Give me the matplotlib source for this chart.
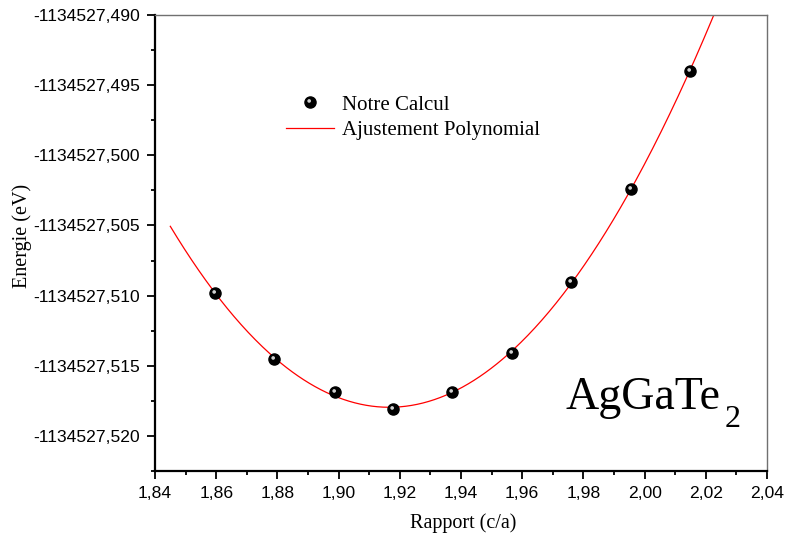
import numpy as np
import matplotlib
matplotlib.use("Agg")
import matplotlib.pyplot as plt
from matplotlib.ticker import MultipleLocator, FuncFormatter
from matplotlib.markers import MarkerStyle
from matplotlib.transforms import Affine2D
from matplotlib.lines import Line2D
from matplotlib.legend_handler import HandlerTuple

# c/a ratio and total energy (eV)
ratio = [1.8596, 1.8789, 1.8988, 1.9178, 1.9371, 1.9567, 1.9759, 1.9955, 2.0148]
energy = [-1134527.5098, -1134527.5145, -1134527.5169, -1134527.5181,
          -1134527.5169, -1134527.5141, -1134527.5090, -1134527.5024,
          -1134527.4940]

x_ticks = [1.84, 1.86, 1.88, 1.90, 1.92, 1.94, 1.96, 1.98, 2.00, 2.02, 2.04]
y_ticks = [-1134527.520, -1134527.515, -1134527.510, -1134527.505,
           -1134527.500, -1134527.495, -1134527.490]

serif = "Liberation Serif"
sans = "Liberation Sans"

fig = plt.figure(figsize=(7.88, 5.39), dpi=100)
ax = fig.add_axes([155 / 788, 68 / 539, 612 / 788, 456 / 539])

# polynomial fit of the computed points
coef = np.polyfit(ratio, energy, 3)
xf = np.linspace(1.845, 2.03, 400)
ax.plot(xf, np.polyval(coef, xf), color="red", lw=0.9, zorder=2)

# points drawn as shaded spheres: dark body plus a small highlight
ms = 8
ax.plot(ratio, energy, ls="none", marker="o", ms=ms, color="black", zorder=3)
hl = MarkerStyle("o", transform=Affine2D().scale(0.33).translate(-0.12, 0.14))
ax.plot(ratio, energy, ls="none", marker=hl, ms=ms, color="#d0d0d0",
        markeredgewidth=0, zorder=4)

ax.set_xlim(1.84, 2.04)
ax.set_ylim(-1134527.5225, -1134527.490)
ax.set_xticks(x_ticks)
ax.set_yticks(y_ticks)
ax.xaxis.set_minor_locator(MultipleLocator(0.01))
ax.yaxis.set_minor_locator(MultipleLocator(0.0025))
ax.xaxis.set_major_formatter(FuncFormatter(lambda v, p: f"{v:.2f}".replace(".", ",")))
ax.yaxis.set_major_formatter(FuncFormatter(lambda v, p: f"{v:.3f}".replace(".", ",")))

ax.tick_params(which="both", direction="out", top=False, right=False,
               width=1.3, color="black")
ax.tick_params(which="major", length=6, labelsize=12.6, pad=5)
ax.tick_params(which="minor", length=3)
for lab in ax.get_xticklabels() + ax.get_yticklabels():
    lab.set_fontfamily(sans)

for side in ("left", "bottom"):
    ax.spines[side].set_linewidth(1.6)
    ax.spines[side].set_color("black")
for side in ("top", "right"):
    ax.spines[side].set_linewidth(1.0)
    ax.spines[side].set_color("#707070")

ax.set_xlabel("Rapport (c/a)", fontfamily=serif, fontsize=14.5, va="center")
ax.xaxis.set_label_coords(0.503, -0.114)
ax.set_ylabel("Energie (eV)", fontfamily=serif, fontsize=14.5, va="center")
ax.yaxis.set_label_coords(-0.217, 0.515)

# compound name with a large, low subscript
name = ax.text(0.67, 0.137, "AgGaTe", transform=ax.transAxes, fontfamily=serif,
               fontsize=33, ha="left", va="baseline")
ax.annotate("2", xy=(1, 0), xycoords=name, xytext=(3, -5.8),
            textcoords="offset points", fontfamily=serif, fontsize=23,
            ha="left", va="baseline")

h_pts = (Line2D([], [], ls="none", marker="o", ms=ms, color="black"),
         Line2D([], [], ls="none", marker=hl, ms=ms, color="#d0d0d0",
                markeredgewidth=0))
h_fit = Line2D([], [], color="red", lw=0.9)
ax.legend([h_pts, h_fit], ["Notre Calcul", "Ajustement Polynomial"],
          handler_map={tuple: HandlerTuple(ndivide=1)},
          loc="upper left", bbox_to_anchor=(0.2, 0.843), frameon=False,
          prop={"family": serif, "size": 15}, handlelength=2.3,
          handletextpad=0.4, labelspacing=0.3, borderaxespad=0)

fig.savefig("out.png", dpi=100)
